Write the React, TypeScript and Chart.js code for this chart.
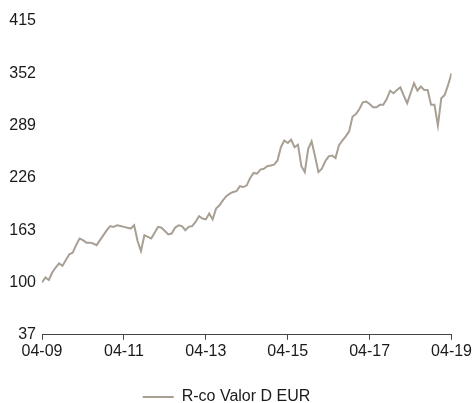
import React, { useEffect, useRef } from "react";
import { Chart, registerables } from "chart.js";

Chart.register(...registerables);

const seriesName = "R-co Valor D EUR";
const tickLabels = ["04-09", "04-11", "04-13", "04-15", "04-17", "04-19"];
const yTicks = [37, 100, 163, 226, 289, 352, 415];
const values = [
  100, 106, 103, 112, 118, 123, 120, 127, 134, 136,
  145, 153, 151, 148, 148, 147, 145, 151, 157, 163,
  168, 167, 169, 168, 167, 166, 165, 169, 150, 138,
  157, 155, 153, 160, 167, 166, 162, 158, 159, 166,
  169, 168, 163, 167, 168, 173, 180, 177, 176, 183,
  176, 189, 193, 199, 204, 207, 209, 210, 216, 215,
  217, 226, 232, 231, 236, 237, 240, 241, 242, 247,
  263, 271, 268, 272, 263, 266, 240, 233, 261, 270,
  252, 233, 237, 246, 252, 253, 250, 265, 271, 276,
  282, 300, 303, 309, 317, 318, 315, 311, 311, 314,
  314, 321, 331, 328, 332, 335, 325, 316, 328, 340,
  331, 336, 332, 332, 314, 314, 289, 322, 326, 338,
  352,
];

const LINE_COLOR = "#a89f95";
const FONT = "'Liberation Sans', Arial, sans-serif";
const W = 474;
const H = 415;

export default function App() {
  const ref = useRef<HTMLCanvasElement | null>(null);
  useEffect(() => {
    if (!ref.current) return;
    const chart = new Chart(ref.current, {
      type: "line",
      data: {
        datasets: [
          {
            label: seriesName,
            data: values.map((v, i) => ({ x: i, y: v })),
            borderColor: LINE_COLOR,
            backgroundColor: LINE_COLOR,
            borderWidth: 2,
            pointRadius: 0,
            tension: 0,
          },
        ],
      },
      options: {
        animation: false,
        responsive: false,
        maintainAspectRatio: false,
        layout: { padding: { left: 0, right: 21, top: 21, bottom: 0 } },
        plugins: {
          tooltip: { enabled: false },
          legend: {
            position: "bottom",
            labels: {
              boxWidth: 31,
              boxHeight: 2,
              color: "#1a1a1a",
              font: { family: FONT, size: 16 },
              padding: 26,
              generateLabels: (c: any) =>
                Chart.defaults.plugins.legend.labels
                  .generateLabels(c)
                  .map((l: any) => ({ ...l, lineWidth: 0, fillStyle: LINE_COLOR })),
            },
          },
        },
        scales: {
          x: {
            type: "linear",
            min: 0,
            max: values.length - 1,
            grid: {
              display: true,
              drawOnChartArea: false,
              drawTicks: true,
              tickLength: 5,
              color: "#444",
            },
            border: { display: true, color: "#444", width: 1 },
            ticks: {
              stepSize: 24,
              autoSkip: false,
              maxRotation: 0,
              padding: 2,
              color: "#1a1a1a",
              font: { family: FONT, size: 16 },
              callback: (v: any) => {
                const k = Number(v) / 24;
                return Number.isInteger(k) ? tickLabels[k] : null;
              },
            },
          },
          y: {
            min: yTicks[0],
            max: yTicks[yTicks.length - 1],
            afterFit: (s: any) => {
              s.width = 42;
            },
            afterBuildTicks: (s: any) => {
              s.ticks = yTicks.map((v) => ({ value: v }));
            },
            grid: { display: false, drawTicks: false },
            border: { display: false },
            ticks: {
              padding: 6,
              color: "#1a1a1a",
              font: { family: FONT, size: 16 },
            },
          },
        },
      },
    });
    return () => chart.destroy();
  }, []);
  return (
    <div style={{ position: "absolute", left: 0, top: 0, width: W, height: 403, overflow: "hidden", background: "#fff" }}>
      <canvas ref={ref} width={W} height={H} style={{ width: W, height: H, display: "block" }} />
    </div>
  );
}
